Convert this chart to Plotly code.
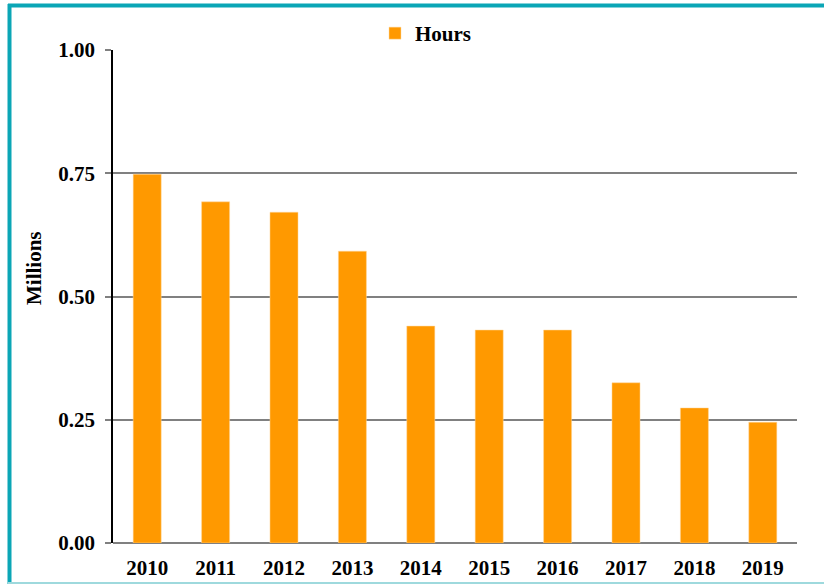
import plotly.graph_objects as go

years = ["2010", "2011", "2012", "2013", "2014", "2015", "2016", "2017", "2018", "2019"]
hours_millions = [0.748, 0.692, 0.671, 0.592, 0.440, 0.432, 0.432, 0.325, 0.274, 0.245]
y_ticks = [0, 0.25, 0.5, 0.75, 1.0]
y_tick_labels = ["0.00", "0.25", "0.50", "0.75", "1.00"]

W, H = 824, 584
L, R, T, B = 113, 27, 50, 41
pw, ph = W - L - R, H - T - B

def px_x(p):
    return (p - L) / pw

def px_y(p):
    return (H - B - p) / ph

FAM = "Liberation Serif, Times New Roman, serif"
FS = 21

fig = go.Figure()
fig.add_trace(go.Bar(
    x=years, y=hours_millions, name="<b>Hours</b>",
    marker=dict(color="#FF9900", line=dict(color="#FFD9A0", width=0.5)),
    showlegend=True,
))

fig.update_layout(
    width=W, height=H,
    margin=dict(l=L, r=R, t=T, b=B, autoexpand=False),
    paper_bgcolor="white", plot_bgcolor="white",
    font=dict(family=FAM, size=FS, color="black"),
    bargap=0.59,
    showlegend=True,
    legend=dict(orientation="h", x=px_x(375), xanchor="left", y=px_y(13), yanchor="top",
                font=dict(family=FAM, size=FS, color="black"),
                bgcolor="rgba(0,0,0,0)", itemwidth=30),
    xaxis=dict(showgrid=False, ticks="", showline=False, zeroline=False, automargin=False,
               tickvals=years, ticktext=["<b>%s</b>" % y for y in years],
               tickfont=dict(family=FAM, size=FS, color="black"),
               ticklabelstandoff=10),
    yaxis=dict(range=[0, 1.0], tickvals=y_ticks, ticktext=["<b>%s</b>" % t for t in y_tick_labels],
               automargin=False,
               showgrid=True, gridcolor="#808080", gridwidth=1.5,
               showline=True, linecolor="black", linewidth=1.5,
               ticks="outside", ticklen=6, tickcolor="#808080", tickwidth=1.5,
               zeroline=True, zerolinecolor="#808080", zerolinewidth=1.5,
               tickfont=dict(family=FAM, size=FS, color="black"),
               ticklabelstandoff=6),
)

fig.add_annotation(text="<b>Millions</b>", xref="paper", yref="paper",
                   x=px_x(34), y=px_y(268), xanchor="center", yanchor="middle",
                   textangle=-90, showarrow=False,
                   font=dict(family=FAM, size=FS, color="black"))

# frame
fig.add_shape(type="line", xref="paper", yref="paper", x0=px_x(9.5), x1=px_x(9.5), y0=px_y(4), y1=px_y(584),
              line=dict(color="#0BA6B6", width=4))
fig.add_shape(type="line", xref="paper", yref="paper", x0=px_x(8), x1=px_x(824), y0=px_y(5.5), y1=px_y(5.5),
              line=dict(color="#0BA6B6", width=4))
fig.add_shape(type="line", xref="paper", yref="paper", x0=px_x(8), x1=px_x(824), y0=px_y(583), y1=px_y(583),
              line=dict(color="#9ED9DD", width=2))

fig.write_html("out.html", config={"displayModeBar": False},
               post_script="document.body.style.margin='0';document.body.style.overflow='hidden';")
